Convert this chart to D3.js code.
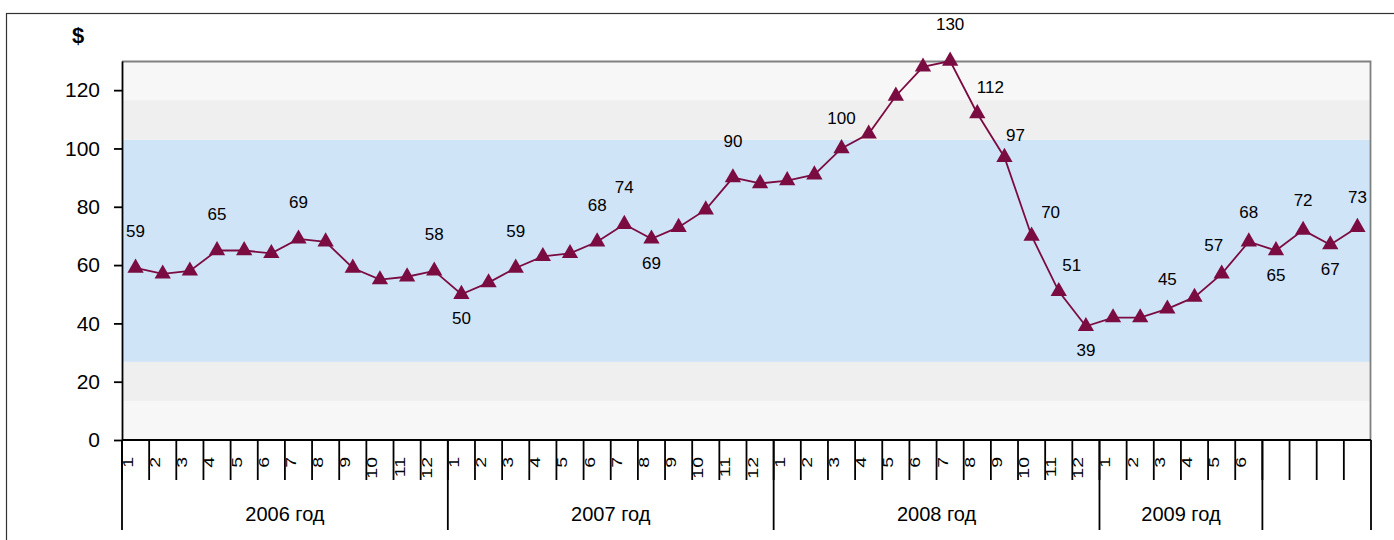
<!DOCTYPE html>
<html>
<head>
<meta charset="utf-8">
<script src="https://cdn.jsdelivr.net/npm/d3@7"></script>
<style>
  body { margin: 0; background: #fff; }
  svg text { font-family: "Liberation Sans", Arial, sans-serif; fill: #000; }
</style>
</head>
<body>
<div id="chart"></div>
<script>
// months shown under the axis, the last four slots have no label
let monthLabels = [
  '1','2','3','4','5','6','7','8','9','10','11','12',
  '1','2','3','4','5','6','7','8','9','10','11','12',
  '1','2','3','4','5','6','7','8','9','10','11','12',
  '1','2','3','4','5','6','','','',''
]
let yearLabels = ['2006 год', '2007 год', '2008 год', '2009 год', '']
let yearSpans = [12, 12, 12, 6, 4]

// price, $ per barrel
let prices = [
  59, 57, 58, 65, 65, 64, 69, 68, 59, 55, 56, 58,
  50, 54, 59, 63, 64, 68, 74, 69, 73, 79, 90, 88,
  89, 91, 100, 105, 118, 128, 130, 112, 97, 70, 51, 39,
  42, 42, 45, 49, 57, 68, 65, 72, 67, 73
]

// which points carry a value label, and on which side
let labelIndex = [0, 3, 6, 11, 12, 14, 17, 18, 19, 22, 26, 30, 31, 32, 33, 34, 35, 38, 40, 41, 42, 43, 44, 45]
let labelSide = ['up', 'up', 'up', 'up', 'down', 'up', 'up', 'up', 'down', 'up', 'up2', 'up', 'right', 'right2',
  'right3', 'right', 'down', 'up2', 'upleft', 'up2', 'down', 'up2', 'down', 'up2']

let yTicks = [0, 20, 40, 60, 80, 100, 120]
let bandEdges = [0, 13.4, 26.8, 103, 116.6, 130]

let width = 1394
let height = 540
let margin = { top: 61, right: 23, bottom: 100, left: 122 }

let svg = d3.select('#chart')
  .append('svg')
    .attr('width', width)
    .attr('height', height)

// outer frame
svg.append('rect')
  .attr('x', 6.5).attr('y', 13.5)
  .attr('width', width + 20).attr('height', height + 20)
  .attr('fill', '#fff')
  .attr('stroke', '#333')
  .attr('stroke-width', 1.2)

let xScale = d3.scaleBand()
  .domain(d3.range(prices.length))
  .range([margin.left, width - margin.right])

let yScale = d3.scaleLinear()
  .domain([0, 130])
  .range([height - margin.bottom, margin.top])

let plotLeft = xScale.range()[0]
let plotRight = xScale.range()[1]
let plotBottom = yScale(0)
let plotTop = yScale(130)

// background bands
let bandColors = ['#f7f7f7', '#efefef', '#d0e4f8', '#efefef', '#f7f7f7']
for (let i = 0; i < bandEdges.length - 1; i++) {
  svg.append('rect')
    .attr('x', plotLeft)
    .attr('y', yScale(bandEdges[i + 1]))
    .attr('width', plotRight - plotLeft)
    .attr('height', yScale(bandEdges[i]) - yScale(bandEdges[i + 1]))
    .attr('fill', bandColors[i])
}

// plot border top and right
svg.append('path')
  .attr('d', `M${plotLeft},${plotTop + 0.5}H${plotRight - 0.5}V${plotBottom}`)
  .attr('fill', 'none')
  .attr('stroke', '#808080')
  .attr('stroke-width', 1.8)

// Y axis
let yAxis = svg.append('g')
  .attr('transform', `translate(${plotLeft}, 0)`)
  .call(d3.axisLeft(yScale)
    .tickValues(yTicks)
    .tickSize(8)
    .tickPadding(14)
    .tickSizeOuter(0))
yAxis.select('.domain').attr('stroke', '#000').attr('stroke-width', 1.8)
yAxis.selectAll('.tick line').attr('stroke', '#000').attr('stroke-width', 1.8)
yAxis.selectAll('.tick text')
  .attr('font-size', 21)
  .attr('font-family', '"Liberation Sans", Arial, sans-serif')

svg.append('text')
  .attr('x', 78).attr('y', 43)
  .attr('text-anchor', 'middle')
  .attr('font-size', 22)
  .attr('font-weight', 'bold')
  .text('$')

// X axis line
svg.append('line')
  .attr('x1', plotLeft).attr('x2', plotRight)
  .attr('y1', plotBottom).attr('y2', plotBottom)
  .attr('stroke', '#000').attr('stroke-width', 1.8)

// month separators and labels
let step = xScale.step()
monthLabels.forEach((m, i) => {
  let x0 = xScale(i)
  svg.append('line')
    .attr('x1', x0).attr('x2', x0)
    .attr('y1', plotBottom).attr('y2', plotBottom + 40)
    .attr('stroke', '#000').attr('stroke-width', 1.8)
  if (m !== '') {
    svg.append('text')
      .attr('transform', `translate(${x0 + 11}, ${plotBottom + 17}) rotate(-90) scale(1.3, 1)`)
      .attr('text-anchor', 'end')
      .attr('font-size', 15)
      .text(m)
  }
})

// year groups
let start = 0
yearLabels.forEach((y, i) => {
  let x0 = xScale(start)
  let x1 = start + yearSpans[i] < prices.length ? xScale(start + yearSpans[i]) : plotRight
  svg.append('line')
    .attr('x1', x0).attr('x2', x0)
    .attr('y1', plotBottom).attr('y2', plotBottom + 90)
    .attr('stroke', '#000').attr('stroke-width', 1.8)
  svg.append('text')
    .attr('x', (x0 + x1) / 2)
    .attr('y', plotBottom + 81)
    .attr('text-anchor', 'middle')
    .attr('font-size', 20)
    .text(y)
  start += yearSpans[i]
})
svg.append('line')
  .attr('x1', plotRight).attr('x2', plotRight)
  .attr('y1', plotBottom).attr('y2', plotBottom + 90)
  .attr('stroke', '#000').attr('stroke-width', 1.8)

// the price line
let lineColor = '#7b0c42'
let line = d3.line()
  .x((d, i) => xScale(i) + step / 2)
  .y(d => yScale(d))

svg.append('path')
  .datum(prices)
  .attr('d', line)
  .attr('fill', 'none')
  .attr('stroke', lineColor)
  .attr('stroke-width', 1.8)

svg.selectAll('.marker')
  .data(prices)
  .enter()
  .append('path')
    .attr('class', 'marker')
    .attr('d', d3.symbol().type(d3.symbolTriangle).size(115))
    .attr('transform', (d, i) => `translate(${xScale(i) + step / 2}, ${yScale(d)})`)
    .attr('fill', lineColor)

// value labels
let sideOffset = {
  up: [0, -31],
  up2: [0, -24],
  upleft: [-8, -23],
  down: [0, 30],
  right: [13, -20],
  right2: [11, -16],
  right3: [19, -18]
}
labelIndex.forEach((idx, k) => {
  let off = sideOffset[labelSide[k]]
  svg.append('text')
    .attr('x', xScale(idx) + step / 2 + off[0])
    .attr('y', yScale(prices[idx]) + off[1])
    .attr('text-anchor', 'middle')
    .attr('font-size', 17)
    .text(prices[idx])
})
</script>
</body>
</html>
